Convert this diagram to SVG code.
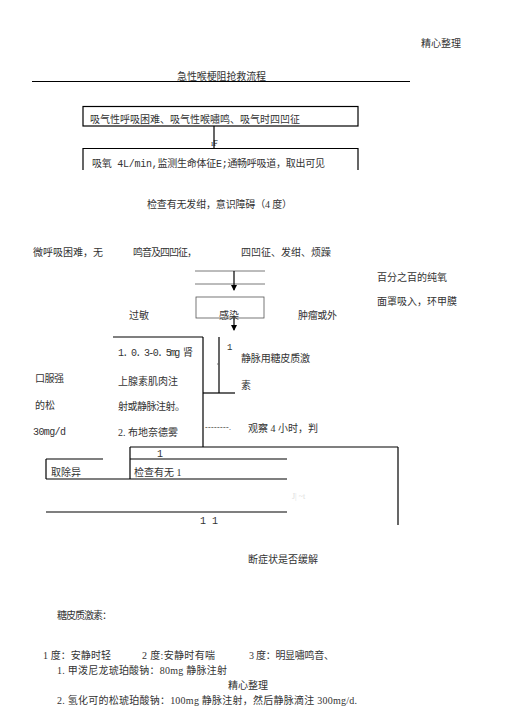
<svg xmlns="http://www.w3.org/2000/svg" width="505" height="714" viewBox="0 0 505 714">
<style>
text{font-family:"Liberation Serif","Noto Sans CJK SC",serif;font-size:10px;fill:#333}
.m{font-family:"Liberation Mono","Noto Sans CJK SC",monospace}
.ln{stroke:#000;stroke-width:1.2;fill:none}
.thin{stroke:#555;stroke-width:0.8;fill:none}
</style>
<defs>
<marker id="tri" markerWidth="6" markerHeight="6" refX="3" refY="5" markerUnits="userSpaceOnUse" viewBox="0 0 6 6" orient="0">
<path d="M0,0 L6,0 L3,6 z" fill="#000"/>
</marker>
</defs>
<rect width="505" height="714" fill="#fff"/>
<g id="header">
<text x="421" y="47">精心整理</text>
<text x="177" y="80" textLength="89">急性喉梗阻抢救流程</text>
<line class="ln" x1="32" y1="81.5" x2="410" y2="81.5"/>
</g>
<g id="connectors">
<line class="ln" x1="214" y1="126" x2="214" y2="148"/>
<line class="thin" x1="195" y1="271" x2="265" y2="271"/>
<line class="thin" x1="195" y1="284" x2="265" y2="284"/>
<line class="ln" x1="234" y1="271" x2="234" y2="290" marker-end="url(#tri)"/>
<line class="ln" x1="234" y1="318" x2="234" y2="330" marker-end="url(#tri)"/>
<line class="ln" x1="113" y1="337" x2="203" y2="337"/>
<line class="ln" x1="203" y1="337" x2="203" y2="447"/>
<line class="ln" x1="219" y1="337" x2="219" y2="393"/>
<line class="ln" x1="203" y1="393" x2="235" y2="393"/>
<line class="thin" x1="217" y1="364" x2="219" y2="364"/>
<line class="ln" x1="130" y1="447" x2="398" y2="447"/>
<line class="ln" x1="398" y1="447" x2="398" y2="525"/>
<line class="ln" x1="130" y1="447" x2="130" y2="479"/>
<line class="ln" x1="130" y1="459" x2="287" y2="459"/>
<line class="ln" x1="46" y1="479" x2="287" y2="479"/>
<line class="ln" x1="46" y1="459" x2="103" y2="459"/>
<line class="ln" x1="46" y1="459" x2="46" y2="479"/>
<line class="ln" x1="46" y1="512" x2="287" y2="512"/>
</g>
<g id="n1">
<rect class="ln" x="83" y="106.5" width="275" height="19.5"/>
<text x="90" y="123" textLength="210">吸气性呼吸困难、吸气性喉嘯鸣、吸气时四凹征</text>
</g>
<g id="n1mark"><text x="211" y="146" style="font-size:8px;fill:#111">ıF</text></g>
<g id="n2">
<path class="ln" d="M83,170 V148.5 H358 V170"/>
<text class="m" x="92" y="167" textLength="233">吸氧 4L/min,监测生命体征E;通畅呼吸道，取出可见</text>
</g>
<g id="n3"><text x="147" y="208" textLength="145">检查有无发绀，意识障碍（4 度）</text></g>
<g id="n4">
<text x="33" y="256" textLength="70">微呼吸困难，无</text>
<text x="133" y="256" textLength="64">鸣音及四凹征，</text>
<text x="241" y="256" textLength="90">四凹征、发绀、烦躁</text>
</g>
<g id="n5">
<text x="377" y="281" textLength="70">百分之百的纯氧</text>
<text x="377" y="305" textLength="80">面罩吸入，环甲膜</text>
</g>
<g id="n6">
<rect class="thin" x="196" y="297" width="68" height="21"/>
<text x="219" y="319">感染</text>
<text x="129" y="319">过敏</text>
<text x="298" y="319" textLength="39">肿瘤或外</text>
</g>
<g id="n7">
<text class="m" x="118" y="356" textLength="75">1. 0. 3-0. 5mg 肾</text>
<text x="118" y="385" textLength="60">上腺素肌肉注</text>
<text x="118" y="410" textLength="67">射或静脉注射。</text>
<text x="118" y="436" textLength="60">2. 布地奈德雾</text>
</g>
<g id="n8">
<text x="35" y="382" textLength="29">口服强</text>
<text x="35" y="409">的松</text>
<text class="m" x="33" y="435" textLength="33">30mg/d</text>
</g>
<g id="n9">
<text class="m" x="227" y="350" style="font-size:9px">1</text>
<text x="241" y="362" textLength="69">静脉用糖皮质激</text>
<text x="241" y="389">素</text>
</g>
<g id="n10">
<text x="205" y="430" style="font-size:8px" textLength="26">--------.</text>
<text x="248" y="432" textLength="70">观察 4 小时，判</text>
</g>
<g id="n11">
<text class="m" x="157" y="457">1</text>
<text x="51" y="476" textLength="30">取除异</text>
<text x="134" y="476">检查有无 1</text>
<text x="292" y="499" style="fill:#ddd;font-size:8px">J| ~t</text>
<text class="m" x="200" y="524">1 1</text>
</g>
<g id="n12"><text x="248" y="563" textLength="70">断症状是否缓解</text></g>
<g id="notes">
<text x="57" y="619" textLength="55">糖皮质激素：</text>
<text x="43" y="659" textLength="68">1 度：安静时轻</text>
<text x="142" y="659" textLength="73">2 度:安静时有喘</text>
<text x="249" y="659" textLength="85">3 度：明显嘯鸣音、</text>
<text x="57" y="674" textLength="170">1.  甲泼尼龙琥珀酸钠：80mg 静脉注射</text>
<text x="228" y="689">精心整理</text>
<text x="57" y="704" textLength="300">2.  氢化可的松琥珀酸钠：100mg 静脉注射，然后静脉滴注 300mg/d.</text>
</g>
</svg>
